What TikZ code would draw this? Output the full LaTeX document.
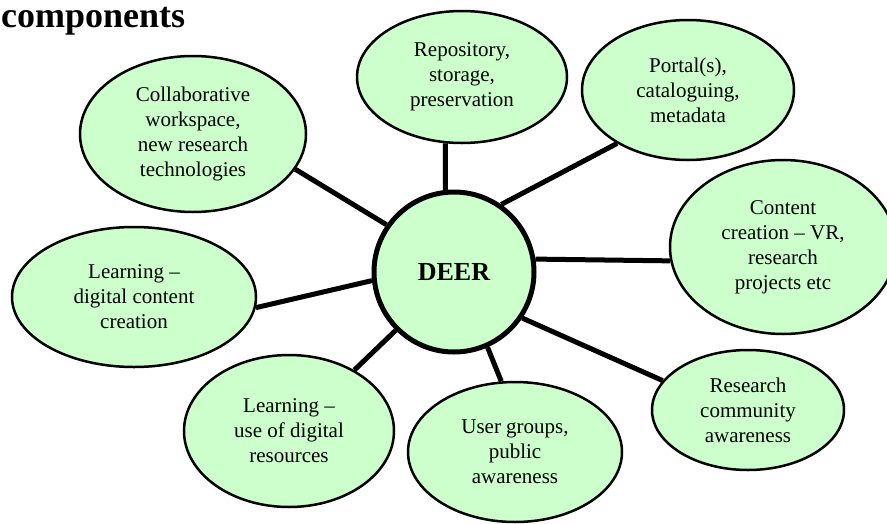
\documentclass[tikz,border=0pt]{standalone}
\usepackage{fontspec}
\setmainfont{Liberation Serif}
\usetikzlibrary{shapes.geometric,backgrounds}
\definecolor{deergreen}{HTML}{CCFFCC}

\begin{document}
\begin{tikzpicture}[x=1pt,y=-1pt,
    bubble/.style={ellipse,draw,line width=2.5pt,fill=deergreen,inner sep=0pt,
      align=center,font=\fontsize{21}{25}\selectfont},
    hub/.style={circle,draw,line width=5pt,fill=deergreen,minimum size=160pt,
      inner sep=0pt,font=\bfseries\fontsize{26}{30}\selectfont},
    spoke/.style={line width=5pt}]
      \useasboundingbox (0,0) rectangle (887,523);
      \node[anchor=base west,inner sep=0pt,font=\bfseries\fontsize{36}{40}\selectfont] (title) at (1,27) {components};
      \node[hub] (deer) at (454,272) {DEER};
      \node[bubble,minimum width=210pt,minimum height=132pt] (repo) at (462,77) {Repository,\\storage,\\preservation};
      \node[bubble,minimum width=212pt,minimum height=140pt] (portal) at (688,90) {Portal(s),\\cataloguing,\\metadata};
      \node[bubble,minimum width=226pt,minimum height=174pt] (content) at (783,247) {Content\\creation -- VR,\\research\\projects etc};
      \node[bubble,minimum width=192pt,minimum height=120pt] (research) at (748,410) {Research\\community\\awareness};
      \node[bubble,minimum width=214pt,minimum height=140pt] (users) at (515,452) {User groups,\\public\\awareness};
      \node[bubble,minimum width=210pt,minimum height=152pt] (usedig) at (289,431) {Learning --\\use of digital\\resources};
      \node[bubble,minimum width=244pt,minimum height=140pt] (learndig) at (134,297) {Learning --\\digital content\\creation};
      \node[bubble,minimum width=226pt,minimum height=156pt] (collab) at (193,134) {Collaborative\\workspace,\\new research\\technologies};
      \begin{pgfonlayer}{background}
      \draw[spoke] (deer.96) -- (repo.256);
      \draw[spoke] (deer.55) -- (portal.217);
      \draw[spoke] (deer.9) -- (content.187);
      \draw[spoke] (deer.-34) -- (research.161);
      \draw[spoke] (deer.-66) -- (users.101);
      \draw[spoke] (deer.225) -- (usedig.43);
      \draw[spoke] (deer.186) -- (learndig.-5);
      \draw[spoke] (deer.145) -- (collab.-19);
      \end{pgfonlayer}
\end{tikzpicture}
\end{document}
